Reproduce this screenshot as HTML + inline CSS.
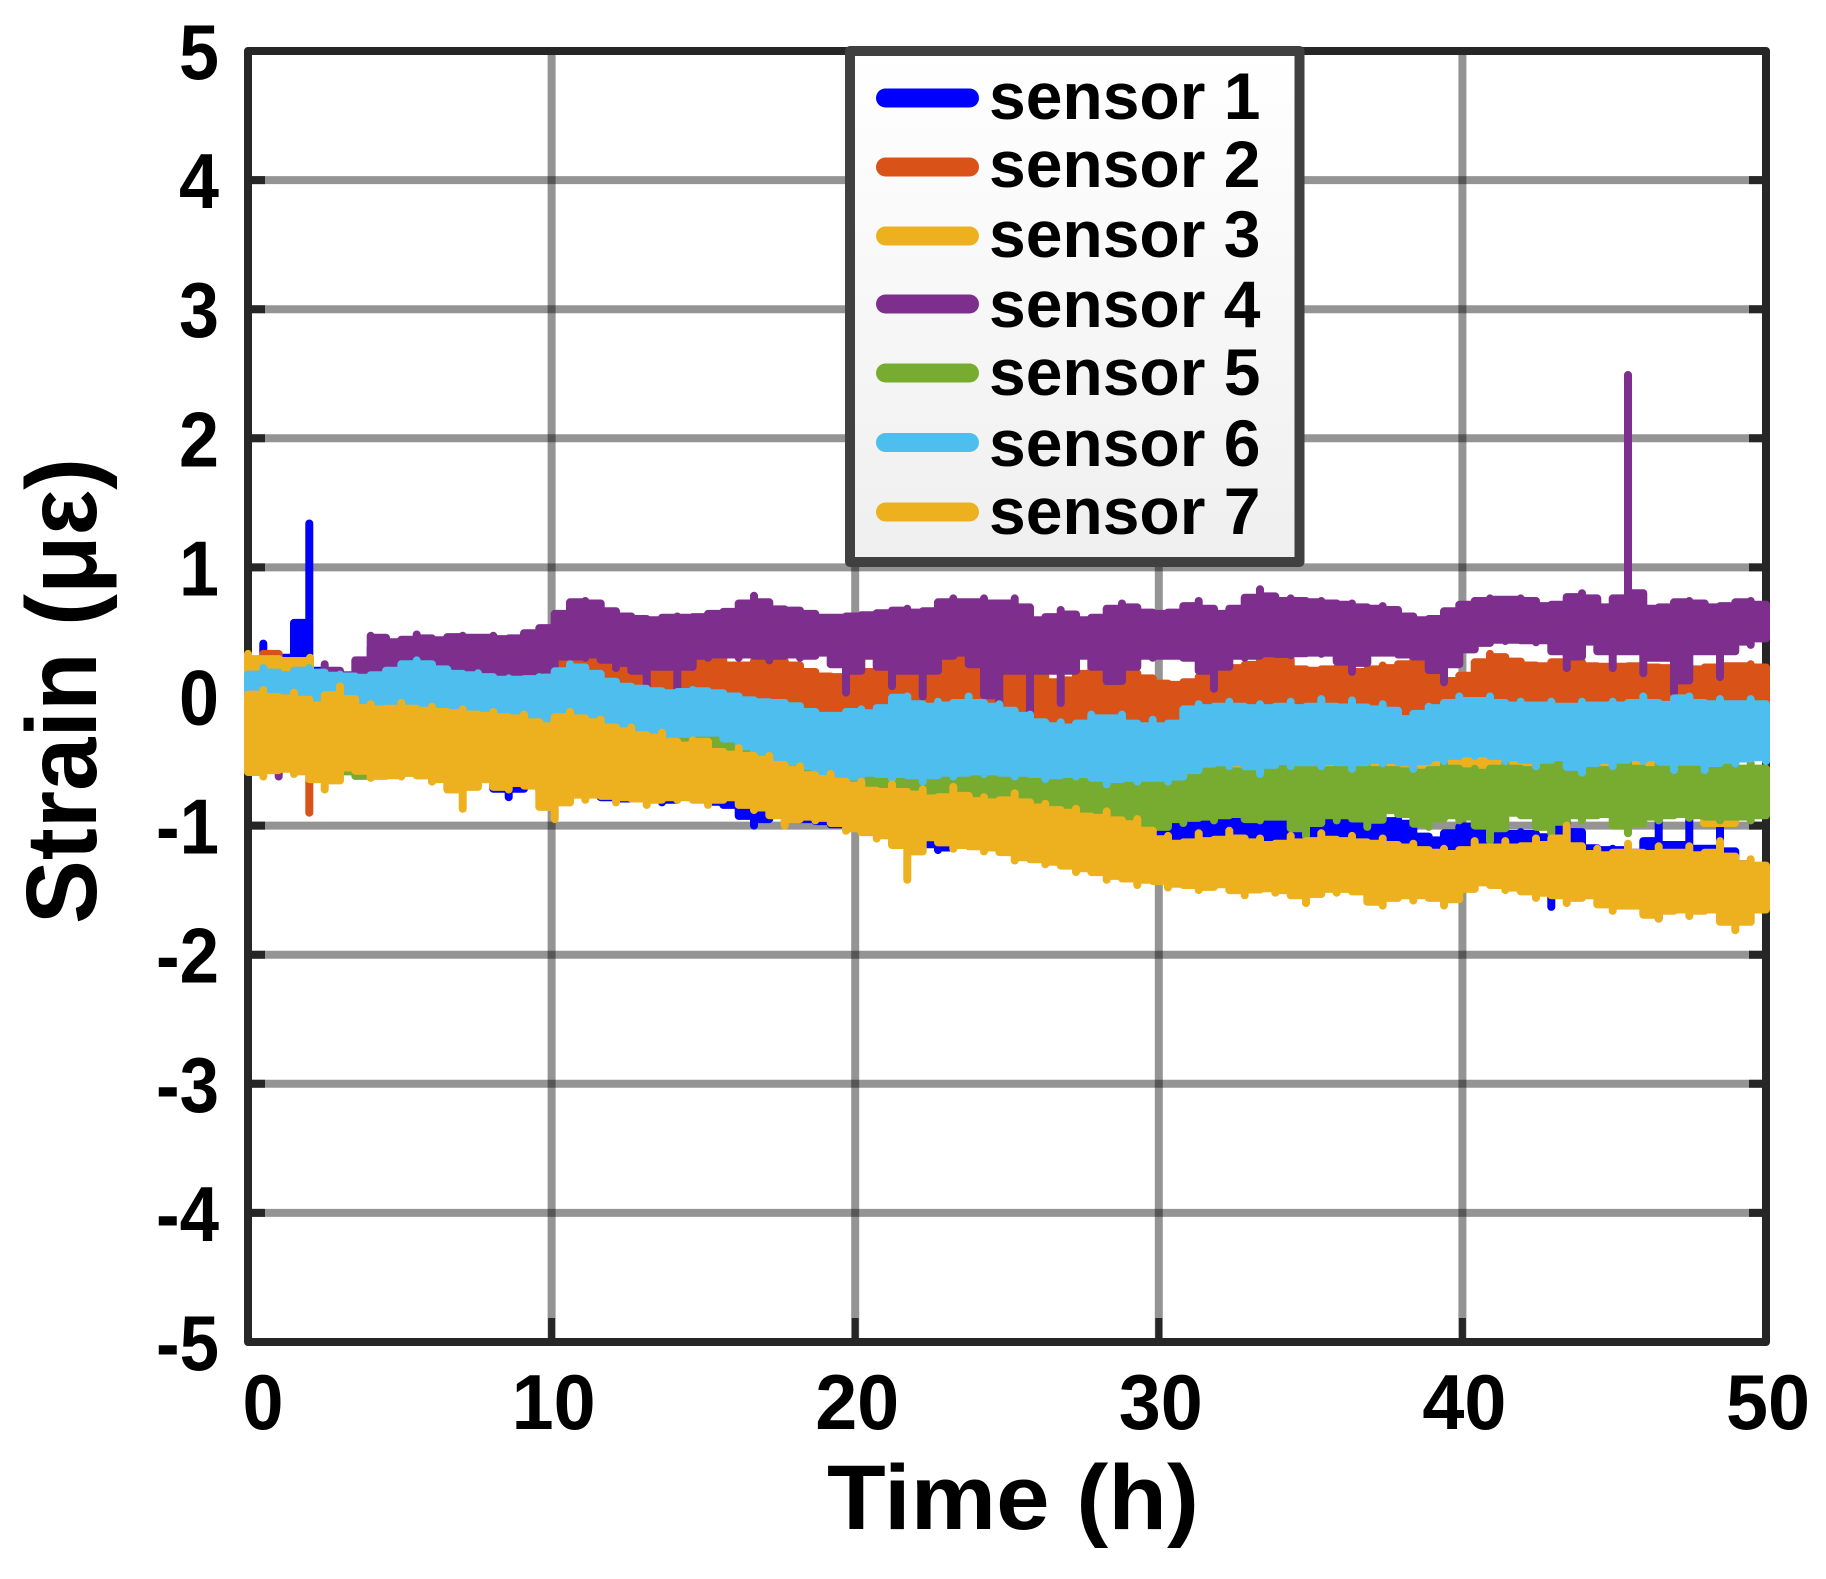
<!DOCTYPE html>
<html lang="en">
<head>
<meta charset="utf-8">
<title>Strain vs Time</title>
<style>
  html, body { margin: 0; padding: 0; background: #fff; }
  svg { display: block; }
  text { font-family: "Liberation Sans", sans-serif; font-weight: bold; fill: #000; }
</style>
</head>
<body>
<svg id="chart" xmlns="http://www.w3.org/2000/svg" width="1826" height="1579" viewBox="0 0 1826 1579">
  <defs>
    <linearGradient id="legendFill" x1="0" y1="0" x2="0" y2="1">
      <stop offset="0" stop-color="#ffffff"/>
      <stop offset="1" stop-color="#efefef"/>
    </linearGradient>
    <clipPath id="plotClip"><rect x="244" y="47" width="1526" height="1299"/></clipPath>
  </defs>
  <g id="grid"></g>
  <g id="axes"></g>
  <g id="marks" clip-path="url(#plotClip)"></g>
  <g id="legend">
    <rect x="850" y="51" width="449.5" height="511" fill="url(#legendFill)" stroke="#404040" stroke-width="10" stroke-linejoin="round"/>
    <g>
      <line x1="885.5" x2="969.5" y1="98" y2="98" stroke="#0000FF" stroke-width="19" stroke-linecap="round"/>
      <text x="989" y="119" font-size="66">sensor 1</text>
    </g>
    <g>
      <line x1="885.5" x2="969.5" y1="167" y2="167" stroke="#D95319" stroke-width="19" stroke-linecap="round"/>
      <text x="989" y="187" font-size="66">sensor 2</text>
    </g>
    <g>
      <line x1="885.5" x2="969.5" y1="236" y2="236" stroke="#EDB120" stroke-width="19" stroke-linecap="round"/>
      <text x="989" y="257" font-size="66">sensor 3</text>
    </g>
    <g>
      <line x1="885.5" x2="969.5" y1="304" y2="304" stroke="#7E2F8E" stroke-width="19" stroke-linecap="round"/>
      <text x="989" y="327" font-size="66">sensor 4</text>
    </g>
    <g>
      <line x1="885.5" x2="969.5" y1="373" y2="373" stroke="#77AC30" stroke-width="19" stroke-linecap="round"/>
      <text x="989" y="395" font-size="66">sensor 5</text>
    </g>
    <g>
      <line x1="885.5" x2="969.5" y1="442.5" y2="442.5" stroke="#4DBEEE" stroke-width="19" stroke-linecap="round"/>
      <text x="989" y="466" font-size="66">sensor 6</text>
    </g>
    <g>
      <line x1="885.5" x2="969.5" y1="512" y2="512" stroke="#EDB120" stroke-width="19" stroke-linecap="round"/>
      <text x="989" y="534" font-size="66">sensor 7</text>
    </g>
  </g>
  <text x="1013" y="1529" font-size="92" text-anchor="middle" textLength="372" lengthAdjust="spacingAndGlyphs">Time (h)</text>
  <text transform="translate(96 691) rotate(-90)" x="0" y="0" font-size="100" text-anchor="middle" textLength="466" lengthAdjust="spacingAndGlyphs">Strain (με)</text>
</svg>
<script>
const xTicks = [0, 10, 20, 30, 40, 50];
const yTicks = [5, 4, 3, 2, 1, 0, -1, -2, -3, -4, -5];
// Each series alternates the upper and lower excursion read in successive time bins.
const sensor1 = [
.1,-.3,.41,-.3,.2,-.3,.47,-.3,1.34,-.4,.1,-.5,.05,-.5,.0,-.5,.38,-.55,-.1,-.5,
-.15,-.55,-.15,-.6,-.15,-.6,-.2,-.62,-.2,-.65,-.2,-.6,-.25,-.65,-.25,-.78,-.3,-.65,-.3,-.7,
-.3,-.75,-.3,-.72,-.32,-.74,-.32,-.76,-.35,-.8,-.35,-.78,-.4,-.75,-.4,-.82,-.4,-.78,-.45,-.75,
-.45,-.8,-.45,-.83,-.5,-.85,-.5,-1.0,-.5,-.9,-.55,-.9,-.55,-.95,-.6,-.95,-.6,-.98,-.62,-1.0,
-.65,-1.0,-.68,-1.05,-.68,-1.0,-.7,-1.1,-.72,-1.1,-.72,-1.19,-.75,-1.15,-.78,-1.12,-.8,-1.15,-.82,-1.15,
-.85,-1.2,-.85,-1.25,-.85,-1.25,-.88,-1.25,-.9,-1.3,-.9,-1.3,-.92,-1.3,-.92,-1.35,-.95,-1.35,-.98,-1.35,
-1.02,-1.3,-.98,-1.3,-.86,-1.3,-.95,-1.3,-1.0,-1.3,-.86,-1.3,-.95,-1.3,-1.0,-1.3,-.95,-1.3,-.92,-1.3,
-1.0,-1.3,-.95,-1.3,-.88,-1.3,-.9,-1.3,-.98,-1.3,-.95,-1.3,-1.02,-1.3,-1.15,-1.3,-1.08,-1.35,-1.04,-1.3,
-.98,-1.3,-1.05,-1.3,-1.08,-1.3,-1.05,-1.35,-1.08,-1.35,-1.1,-1.63,-.9,-1.4,-1.15,-1.4,-1.2,-1.4,-1.18,-1.45,
-1.2,-1.5,-1.22,-1.5,-.88,-1.72,-1.25,-1.55,-.88,-1.5,-1.28,-1.5,-.88,-1.72,-1.3,-1.5,-1.3,-1.55,-1.33,-1.5
];
const sensor2 = [
.12,-.2,.1,.33,-.1,.33,-.1,.12,-.90,.1,-.1,.1,-.1,.05,-.1,.1,-.1,.1,-.1,.1,
.12,-.15,.1,-.15,.12,-.1,.1,-.15,.12,-.1,.14,-.15,.1,-.15,.12,-.1,.14,-.15,.16,-.2,
.2,-.2,.33,-.2,.3,-.15,.25,-.2,.22,-.2,.2,-.2,.18,-.2,.22,-.25,.22,-.2,.25,-.2,
.33,-.2,.26,-.18,.22,-.15,.26,-.2,.29,-.16,.26,-.2,.22,-.15,.16,-.18,.15,-.2,.15,-.2,
.2,-.15,.18,-.2,.2,-.2,.22,-.15,.22,-.2,.26,-.18,.3,-.15,.26,-.2,.25,-.2,.27,-.18,
.24,-.2,.2,-.25,.12,-.22,.1,-.25,.15,-.25,.2,-.22,.24,-.26,.2,-.24,.16,-.25,.12,-.26,
.08,-.26,.1,-.24,.12,-.22,.18,-.2,.2,-.15,.24,-.12,.25,-.14,.36,-.1,.22,-.12,.2,-.14,
.2,-.12,.22,-.15,.2,-.14,.18,-.12,.24,-.14,.2,-.12,.3,-.14,.2,-.13,.12,-.18,.12,-.2,
.2,-.14,.33,-.12,.28,-.1,.26,-.14,.22,-.12,.25,-.15,.28,-.12,.25,-.1,.22,-.13,.24,-.12,
.22,-.12,.25,-.15,.2,-.14,.24,-.1,.22,-.18,.2,-.12,.25,-.14,.22,-.1,.25,-.12,.2,-.12
];
const sensor3 = [
.33,-.3,.25,-.2,.3,-.3,.0,-.3,-.1,-.3,-.1,-.3,-.1,-.4,-.1,-.4,-.15,-.4,-.15,-.4,
-.1,.18,-.15,-.4,-.15,-.4,-.2,-.4,-.2,-.45,-.2,-.4,-.22,-.45,-.25,-.5,-.3,-.5,-.3,-.5,
-.35,-.55,-.4,-.6,-.4,-.6,-.4,-.6,-.4,-.6,-.45,-.65,-.5,-.7,-.5,-.7,-.55,-.75,-.5,-.7,
-.55,-.7,-.45,-.7,-.48,-.7,-.44,-.7,-.5,-.7,-.45,-.7,-.46,-.7,-.5,-.36,-.42,-.7,-.42,-.7,
-.42,-.7,-.47,-.7,-.45,-.7,-.45,-.7,-.5,-.7,-.47,-.7,-.5,-.72,-.52,-.98,-.55,-.98,-.57,-.75
];
const sensor4 = [
.14,-.10,.12,-.15,.10,-.62,.14,-.1,.12,-.1,.25,-.05,.15,.0,.18,.05,.47,.1,.44,.1,.40,.1,.48,.1,.42,.1,.45,.1,.47,.1,.44,.1,.47,.1,.42,.1,.48,.1,.50,.12,
.56,.30,.72,.32,.74,.30,.70,.35,.62,.22,.62,.30,.58,.00,.60,.33,.62,.02,.60,.33,.63,.30,.65,.35,.66,.30,.78,.35,.68,.28,.67,.35,.66,.30,.62,.33,.60,.35,.62,.03,
.62,.30,.64,.33,.65,.08,.68,.30,.62,.00,.70,.30,.76,.33,.70,.35,.76,.11,.68,-.11,.76,.30,.62,-.18,.56,.30,.67,-.05,.60,.30,.58,.33,.64,.12,.72,.12,.66,.33,.64,.30,
.64,.33,.66,.30,.74,.30,.62,.06,.66,.33,.70,.30,.83,.33,.72,.34,.76,.32,.72,.35,.74,.33,.70,.35,.72,.19,.66,.33,.70,.35,.64,.33,.60,.32,.58,.30,.62,.11,.70,.35,
.72,.38,.76,.45,.74,.43,.76,.45,.72,.42,.68,.45,.74,.22,.80,.40,.72,.45,.66,.22,2.49,.45,.70,.18,.66,.40,.72,.03,.74,.22,.70,.45,.68,.15,.72,.45,.74,.40,.68,.50
];
const sensor5 = [
.05,-.52,.02,-.5,.0,-.55,-.02,-.5,-.05,-.55,-.02,-.58,-.05,-.56,-.08,-.6,-.05,-.63,-.1,-.58,
-.08,-.58,-.1,-.6,-.08,-.62,-.1,-.58,-.12,-.6,-.1,-.65,-.12,-.62,-.14,-.66,-.15,-.6,-.16,-.64,
-.16,-.62,-.18,-.66,-.2,-.64,-.22,-.66,-.24,-.7,-.24,-.68,-.26,-.7,-.26,-.72,-.26,-.7,-.28,-.74,
-.26,-.7,-.28,-.74,-.3,-.76,-.28,-.78,-.34,-.8,-.36,-.8,-.38,-.84,-.42,-.86,-.45,-.88,-.47,-.9,
-.45,-.88,-.42,-.9,-.5,-.9,-.55,-.92,-.52,-.94,-.55,-.92,-.5,-.94,-.39,-.96,-.5,-.96,-.56,-.98,
-.58,-.98,-.66,-1.04,-.6,-1.0,-.68,-1.06,-.56,-1.02,-.62,-1.08,-.5,-1.0,-.6,-1.06,-.54,-.98,-.64,-1.1,
-.56,-.92,-.64,-.98,-.52,-.9,-.6,-.96,-.54,-.88,-.62,-.94,-.52,-.96,-.62,-.9,-.5,-.96,-.46,-1.08,
-.52,-.88,-.62,-.96,-.5,-.88,-.6,-1.01,-.54,-.9,-.6,-.86,-.56,-.96,-.62,-1.01,-.52,-.88,-.6,-.96,
-.56,-.9,-.62,-1.12,-.5,-.92,-.62,-.88,-.52,-.96,-.46,-1.06,-.6,-.88,-.52,-.96,-.62,-.88,-.52,-.94,
-.5,-1.06,-.62,-.9,-.52,-.96,-.6,-.88,-.4,-.94,-.56,-.9,-.38,-.96,-.6,-.9,-.52,-.96,-.6,-.88
];
const sensor6 = [
.12,-.2,.22,-.25,.15,-.25,.18,-.2,.22,-.28,.15,-.25,.17,-.2,.14,-.25,.15,-.25,.18,-.3,
.22,-.3,.28,-.3,.22,-.28,.2,-.3,.15,-.25,.18,-.28,.12,-.3,.14,-.3,.12,-.3,.15,-.28,
.14,-.3,.25,-.35,.2,-.3,.15,-.35,.08,-.32,.07,-.34,.05,-.3,.03,-.3,.02,-.28,.05,-.3,
.03,-.26,.02,-.3,-.02,-.35,-.04,-.42,-.05,-.46,-.05,-.5,-.1,-.52,-.14,-.56,-.16,-.6,-.14,-.62,
-.1,-.62,-.16,-.56,-.02,-.64,.0,-.56,-.12,-.66,-.04,-.56,-.1,-.62,.0,-.56,-.1,-.6,-.06,-.56,
-.16,-.62,-.14,-.56,-.26,-.64,-.2,-.58,-.28,-.62,-.14,-.58,-.2,-.68,-.14,-.6,-.28,-.66,-.18,-.6,
-.28,-.66,-.14,-.58,-.06,-.56,-.12,-.48,-.04,-.54,-.12,-.48,-.06,-.6,-.12,-.46,-.04,-.54,-.14,-.48,
-.02,-.54,-.14,-.46,-.03,-.56,-.14,-.46,-.06,-.52,-.16,-.46,-.19,-.56,-.08,-.44,-.1,-.5,.0,-.42,
-.07,-.46,.0,-.42,-.1,-.5,-.04,-.44,-.1,-.54,-.04,-.44,-.12,-.5,-.04,-.59,-.1,-.44,-.04,-.54,
-.1,-.44,.0,-.5,-.1,-.44,-.03,-.57,.0,-.44,-.1,-.57,-.02,-.46,-.1,-.52,-.02,-.44,-.1,-.5
];
const sensor7 = [
-.02,-.55,.05,-.62,-.06,-.52,.03,-.6,-.08,-.56,-.06,-.72,.08,-.58,-.12,-.52,-.06,-.63,-.14,-.6,
-.05,-.62,-.14,-.56,-.08,-.66,-.16,-.62,-.1,-.87,-.18,-.6,-.12,-.68,-.2,-.72,-.14,-.62,-.26,-.76,
-.2,-.95,-.12,-.72,-.22,-.8,-.18,-.72,-.3,-.82,-.24,-.74,-.36,-.84,-.28,-.76,-.42,-.8,-.34,-.76,
-.36,-.84,-.5,-.76,-.4,-.8,-.52,-.88,-.46,-.84,-.6,-1.0,-.54,-.9,-.68,-.96,-.6,-.92,-.72,-1.04,
-.66,-1.0,-.8,-1.1,-.68,-1.05,-.8,-1.42,-.72,-1.1,-.86,-1.08,-.7,-1.18,-.84,-1.12,-.78,-1.2,-.86,-1.14,
-.75,-1.27,-.89,-1.22,-.83,-1.3,-.93,-1.26,-.87,-1.36,-.99,-1.3,-.89,-1.42,-1.03,-1.36,-.95,-1.46,-1.13,-1.38,
-1.08,-1.48,-1.2,-1.42,-1.06,-1.5,-1.18,-1.45,-1.04,-1.46,-1.16,-1.54,-1.1,-1.45,-1.2,-1.52,-1.08,-1.48,-1.18,-1.6,
-1.06,-1.46,-1.16,-1.52,-1.08,-1.46,-1.18,-1.56,-1.1,-1.62,-1.2,-1.5,-1.14,-1.58,-1.24,-1.5,-1.18,-1.62,-1.26,-1.52,
-1.12,-1.46,-1.22,-1.42,-1.12,-1.5,-1.22,-1.46,-1.1,-1.56,-1.2,-1.48,-1.0,-1.6,-1.26,-1.52,-1.18,-1.56,-1.28,-1.66,
-1.14,-1.58,-1.28,-1.66,-1.16,-1.72,-1.26,-1.6,-1.16,-1.7,-1.3,-1.62,-1.12,-1.68,-1.34,-1.81,-1.26,-1.68,-1.36,-1.62
];
const seriesValues = [sensor1, sensor2, sensor3, sensor4, sensor5, sensor6, sensor7];
const seriesColors = ['#0000FF', '#D95319', '#EDB120', '#7E2F8E', '#77AC30', '#4DBEEE', '#EDB120'];
const timeSpan = 50;

const NS = 'http://www.w3.org/2000/svg';
const plot = { left: 248, right: 1766, top: 51, bottom: 1342 };
function xScale(t) { return plot.left + (t - 0) / 50 * (plot.right - plot.left); }
function yScale(v) { return plot.top + (5 - v) / 10 * (plot.bottom - plot.top); }

const gridGroup = document.getElementById('grid');
const axesGroup = document.getElementById('axes');
const marksGroup = document.getElementById('marks');

function makeLine(x1, y1, x2, y2, stroke, width) {
  const l = document.createElementNS(NS, 'line');
  l.setAttribute('x1', x1);
  l.setAttribute('y1', y1);
  l.setAttribute('x2', x2);
  l.setAttribute('y2', y2);
  l.setAttribute('stroke', stroke);
  l.setAttribute('stroke-width', width);
  return l;
}

yTicks.forEach(function (v) {
  const y = yScale(v);
  if (v !== 5 && v !== -5) {
    const g = makeLine(plot.left, y, plot.right, y, 'rgba(0,0,0,0.42)', 8);
    
    
    gridGroup.appendChild(g);
    const tl = makeLine(plot.left, y, plot.left + 17, y, '#262626', 8);
    
    
    axesGroup.appendChild(tl);
    const tr = makeLine(plot.right - 17, y, plot.right, y, '#262626', 8);
    
    
    axesGroup.appendChild(tr);
  }
  const t = document.createElementNS(NS, 'text');
  
  
  t.setAttribute('x', 219);
  t.setAttribute('y', y + 28);
  t.setAttribute('font-size', 78);
  t.setAttribute('text-anchor', 'end');
  t.setAttribute('textLength', v < 0 ? 63 : 40);
  t.setAttribute('lengthAdjust', 'spacingAndGlyphs');
  t.textContent = String(v);
  axesGroup.appendChild(t);
});

xTicks.forEach(function (v) {
  const x = xScale(v);
  if (v !== 0 && v !== 50) {
    const g = makeLine(x, plot.top, x, plot.bottom, 'rgba(0,0,0,0.42)', 8);
    
    
    gridGroup.appendChild(g);
    const tk = makeLine(x, plot.bottom - 24, x, plot.bottom, '#262626', 7);
    
    
    axesGroup.appendChild(tk);
  }
  const t = document.createElementNS(NS, 'text');
  
  
  t.setAttribute('x', v === 0 ? x + 15 : x + 2);
  t.setAttribute('y', 1429);
  t.setAttribute('font-size', 78);
  t.setAttribute('text-anchor', 'middle');
  t.setAttribute('textLength', v === 0 ? 41 : 84);
  t.setAttribute('lengthAdjust', 'spacingAndGlyphs');
  t.textContent = String(v);
  axesGroup.appendChild(t);
});

const frame = document.createElementNS(NS, 'rect');


frame.setAttribute('x', plot.left);
frame.setAttribute('y', plot.top);
frame.setAttribute('width', plot.right - plot.left);
frame.setAttribute('height', plot.bottom - plot.top);
frame.setAttribute('fill', 'none');
frame.setAttribute('stroke', '#262626');
frame.setAttribute('stroke-width', 8);
frame.setAttribute('stroke-linejoin', 'round');
axesGroup.insertBefore(frame, axesGroup.firstChild);

// Dense noisy trace: each bin draws its full excursion; neighbouring bins join
// a little beyond their shared range, so the trace reads as a solid rough band
// with narrow spikes rising out of it.
const JOIN_LIFT = 0.1;
function tracePath(values) {
  const hi = [];
  const lo = [];
  for (let i = 0; i + 1 < values.length; i += 2) {
    hi.push(Math.max(values[i], values[i + 1]));
    lo.push(Math.min(values[i], values[i + 1]));
  }
  const n = hi.length;
  const xAt = function (k) { return xScale(k * timeSpan / (n - 1)).toFixed(1); };
  const parts = [];
  for (let k = 0; k < n; k++) {
    parts.push(xAt(k) + ' ' + yScale(hi[k]).toFixed(1));
    if (k < n - 1) {
      const lift = Math.min(Math.abs(hi[k] - hi[k + 1]) / 2, JOIN_LIFT);
      const level = yScale(Math.min(hi[k], hi[k + 1]) + lift).toFixed(1);
      parts.push(xAt(k) + ' ' + level);
      parts.push(xAt(k + 1) + ' ' + level);
    }
  }
  for (let k = n - 1; k >= 0; k--) {
    parts.push(xAt(k) + ' ' + yScale(lo[k]).toFixed(1));
    if (k > 0) {
      const drop = Math.min(Math.abs(lo[k] - lo[k - 1]) / 2, JOIN_LIFT);
      const level = yScale(Math.max(lo[k], lo[k - 1]) - drop).toFixed(1);
      parts.push(xAt(k) + ' ' + level);
      parts.push(xAt(k - 1) + ' ' + level);
    }
  }
  return 'M' + parts.join('L') + 'Z';
}

seriesValues.forEach(function (values, s) {
  const p = document.createElementNS(NS, 'path');
  
  
  p.setAttribute('d', tracePath(values));
  p.setAttribute('fill', seriesColors[s]);
  p.setAttribute('fill-rule', 'nonzero');
  p.setAttribute('stroke', seriesColors[s]);
  p.setAttribute('stroke-width', 8);
  p.setAttribute('stroke-linejoin', 'round');
  p.setAttribute('stroke-linecap', 'round');
  marksGroup.appendChild(p);
});
</script>
</body>
</html>
